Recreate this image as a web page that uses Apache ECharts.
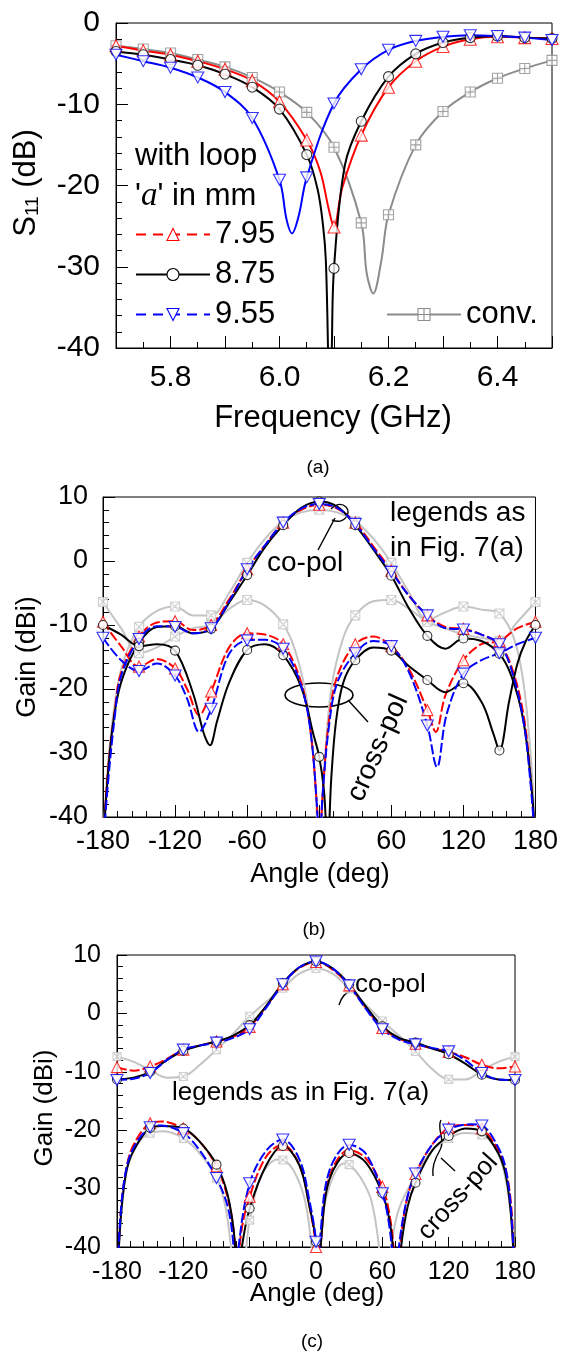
<!DOCTYPE html>
<html>
<head>
<meta charset="utf-8">
<script src="https://cdn.jsdelivr.net/npm/echarts@6/dist/echarts.min.js"></script>
<style>
html, body { margin: 0; padding: 0; background: #fff; }
#container { width: 561px; height: 1355px; }
</style>
</head>
<body>
<div id="container"></div>
<script>
const FONT = "'Liberation Sans', Arial, Helvetica, sans-serif"
const SERIF = "'Liberation Serif', 'Times New Roman', serif"

// (a) S11 vs frequency, [GHz, dB]
const s11_795 = [[5.70,-2.8],[5.75,-3.4],[5.80,-3.9],[5.85,-4.7],[5.90,-5.7],[5.95,-7.1],[6.00,-9.7],[6.05,-14.4],[6.075,-18.3],[6.09,-22.8],[6.10,-25.1],[6.115,-20.3],[6.15,-13.8],[6.20,-7.9],[6.25,-4.7],[6.30,-2.9],[6.35,-2.0],[6.40,-1.7],[6.45,-1.8],[6.50,-1.9]]
const s11_875 = [[5.70,-3.5],[5.75,-3.9],[5.80,-4.5],[5.85,-5.2],[5.90,-6.3],[5.95,-7.9],[6.00,-10.6],[6.05,-16.2],[6.07,-20.5],[6.08,-25],[6.085,-29.2],[6.089,-40],[6.092,-52],[6.096,-40],[6.10,-30.2],[6.12,-17.5],[6.15,-12.1],[6.20,-6.6],[6.25,-3.8],[6.30,-2.4],[6.35,-1.8],[6.40,-1.6],[6.45,-1.8],[6.50,-1.9]]
const s11_955 = [[5.70,-3.9],[5.75,-4.7],[5.80,-5.5],[5.85,-6.7],[5.90,-8.5],[5.95,-11.7],[6.00,-19.3],[6.013,-24.2],[6.023,-25.9],[6.035,-23.8],[6.05,-19.0],[6.10,-9.9],[6.15,-5.7],[6.20,-3.3],[6.25,-2.2],[6.30,-1.7],[6.35,-1.5],[6.40,-1.6],[6.45,-1.8],[6.50,-2.1]]
const s11_conv = [[5.70,-2.8],[5.75,-3.2],[5.80,-3.7],[5.85,-4.5],[5.90,-5.4],[5.95,-6.7],[6.00,-8.5],[6.05,-11.0],[6.10,-15.3],[6.15,-24.6],[6.16,-30.8],[6.172,-33.3],[6.187,-29.2],[6.20,-23.6],[6.25,-15.0],[6.30,-10.9],[6.35,-8.5],[6.40,-6.8],[6.45,-5.6],[6.50,-4.6]]

// (b) gain vs angle, [deg, dBi]
const bCo_795 = [[-180,-45],[-176,-33],[-170,-23],[-165,-17.5],[-150,-11.8],[-135,-9.6],[-120,-9.4],[-105,-10.8],[-90,-10],[-75,-6],[-60,-1.3],[-45,2.5],[-30,6],[-15,8],[0,8.8],[15,8.2],[30,6],[45,2.3],[60,-1.5],[75,-5.5],[90,-8.5],[105,-10.3],[120,-10.6],[135,-11.5],[150,-13],[160,-16.5],[170,-24],[176,-34],[180,-45]]
const bCo_875 = [[-180,-45],[-177,-36],[-172,-26],[-165,-19],[-150,-12.8],[-135,-10.3],[-120,-10.2],[-105,-11.3],[-90,-10.6],[-75,-6.5],[-60,-2.2],[-45,2.2],[-30,5.6],[-15,8.3],[0,9.3],[15,8.5],[30,5.6],[45,1.8],[60,-2.3],[75,-7.5],[90,-11.7],[105,-13.7],[120,-12.1],[135,-12.5],[150,-14.5],[160,-18],[170,-25],[177,-36],[180,-45]]
const bCo_955 = [[-180,-45],[-176,-35],[-170,-24],[-165,-18],[-150,-12.2],[-135,-10.2],[-120,-10.3],[-105,-11.3],[-90,-10.5],[-75,-6.3],[-60,-1.3],[-45,2.5],[-30,6],[-15,8.2],[0,8.9],[15,8.3],[30,5.8],[45,2],[60,-1.7],[75,-5.5],[90,-8.5],[105,-10.5],[120,-10.7],[135,-11.5],[150,-13],[160,-17],[170,-25],[176,-35],[180,-45]]
const bCo_conv = [[-180,-45],[-175,-30],[-165,-17],[-150,-10.3],[-135,-7.8],[-120,-7.1],[-105,-8.5],[-90,-8.5],[-75,-5],[-60,-0.3],[-45,3.5],[-30,6.2],[-15,7.6],[0,8],[15,7.6],[30,6.2],[45,3.5],[60,-0.3],[75,-5],[90,-9.2],[105,-8],[120,-7.1],[135,-7.6],[150,-8.2],[165,-14],[175,-28],[180,-45]]
const bX_795 = [[-180,-9.5],[-165,-13.3],[-150,-16.5],[-135,-15.3],[-120,-16.8],[-110,-20],[-100,-24.1],[-90,-20.4],[-75,-13.5],[-60,-11.3],[-45,-11.5],[-30,-13],[-15,-19],[-7,-27],[-2,-38],[0,-45],[3,-36],[8,-25],[15,-18],[30,-13],[45,-11.8],[60,-13.3],[75,-17],[90,-23.3],[97,-26.7],[105,-21],[120,-15.5],[135,-13],[150,-12.5],[165,-10.5],[180,-9.5]]
const bX_875 = [[-180,-10],[-165,-11.5],[-150,-13.3],[-135,-13],[-120,-14],[-105,-20.7],[-96,-27],[-91,-28.8],[-85,-25],[-75,-19],[-60,-13.9],[-45,-13],[-30,-14.7],[-15,-19.7],[-5,-27],[0,-30.6],[4,-36],[7,-45],[10,-34],[14,-25],[20,-19],[30,-15.5],[45,-13.5],[60,-14],[75,-16.5],[90,-18.6],[105,-20.5],[120,-19.1],[135,-22],[145,-27],[150,-29.6],[158,-22],[165,-16],[172,-12.5],[180,-10]]
const bX_955 = [[-180,-12],[-165,-15.5],[-150,-17.2],[-135,-16],[-120,-17.9],[-110,-21.5],[-100,-26.7],[-90,-23.1],[-75,-14.5],[-60,-12.4],[-45,-12.3],[-30,-13.7],[-15,-19.5],[-7,-27],[-2,-38],[0,-45],[3,-36],[8,-26],[15,-19],[30,-14.4],[45,-12.5],[60,-13.3],[75,-17.5],[90,-25.7],[98,-32.2],[106,-24],[120,-17.6],[135,-15.5],[150,-14.4],[165,-13],[180,-12]]
const bX_conv = [[-180,-6.4],[-165,-10.5],[-150,-14.4],[-135,-13.5],[-120,-11.8],[-105,-10.5],[-90,-10],[-75,-7.5],[-60,-6.1],[-45,-7],[-30,-9.9],[-20,-14],[-10,-22],[-4,-33],[0,-45],[4,-33],[10,-20],[20,-12],[30,-8.5],[45,-6.3],[60,-6.1],[75,-7.5],[90,-9.5],[105,-10.5],[120,-11.5],[135,-12],[150,-12.5],[165,-9.5],[180,-6.4]]

// (c) gain vs angle, [deg, dBi]
const cCo_795 = [[-180,-9.2],[-165,-9.8],[-150,-9.1],[-135,-7.8],[-120,-6.2],[-105,-5.5],[-90,-4.8],[-75,-4],[-60,-2.3],[-45,1.2],[-30,5],[-15,7.8],[0,8.8],[15,7.5],[30,4.8],[45,1],[60,-2.5],[75,-4.3],[90,-5.2],[105,-6],[120,-6.6],[135,-7.5],[150,-8.8],[165,-9.4],[180,-9.1]]
const cCo_875 = [[-180,-11.3],[-165,-11],[-150,-10],[-135,-8],[-120,-6.4],[-105,-5.5],[-90,-4.8],[-75,-3.8],[-60,-2],[-45,1.3],[-30,5.2],[-15,7.9],[0,8.9],[15,7.7],[30,5],[45,1.2],[60,-2.2],[75,-4.2],[90,-5],[105,-6],[120,-7],[135,-8.6],[150,-10.5],[165,-11.3],[180,-11.4]]
const cCo_955 = [[-180,-11.4],[-165,-11.2],[-150,-10.2],[-135,-8],[-120,-6.2],[-105,-5.5],[-90,-5],[-75,-4.2],[-60,-2.7],[-45,1],[-30,5],[-15,7.9],[0,8.9],[15,7.7],[30,4.8],[45,0.8],[60,-2.7],[75,-4.5],[90,-5.3],[105,-5.9],[120,-6.5],[135,-8],[150,-10.2],[165,-11.3],[180,-11.4]]
const cCo_conv = [[-180,-7.4],[-165,-8.3],[-150,-9.7],[-135,-11],[-120,-10.8],[-105,-8.8],[-90,-6.2],[-75,-3.5],[-60,-0.5],[-45,2],[-30,4.3],[-15,6.8],[0,7.7],[15,6.8],[30,4.2],[45,1.5],[60,-1.3],[75,-3.8],[90,-6.5],[105,-9.5],[120,-11.3],[135,-11.3],[150,-9.8],[165,-8.3],[180,-7.4]]
const cX_795 = [[-180,-48],[-177,-35],[-172,-27],[-165,-22.5],[-150,-18.8],[-140,-18.5],[-120,-19.7],[-105,-22],[-90,-26.2],[-80,-31.5],[-74,-38],[-71,-48],[-68,-38],[-60,-31.4],[-45,-24.5],[-30,-22.5],[-15,-26],[-6,-33],[0,-40],[2,-48],[5,-38],[12,-28],[30,-23.4],[45,-24.8],[60,-29.7],[67,-35],[71,-42],[73,-48],[76,-40],[82,-32],[90,-27.5],[105,-22.5],[120,-19.6],[135,-19.1],[150,-19.7],[165,-23.5],[172,-27],[177,-34],[180,-48]]
const cX_875 = [[-180,-48],[-177,-36],[-172,-27.5],[-165,-23.5],[-150,-19.6],[-140,-19.3],[-120,-19.7],[-105,-22],[-90,-25.9],[-80,-31],[-74,-38],[-71,-48],[-67,-40],[-60,-33.4],[-45,-26],[-30,-22.7],[-15,-26],[-6,-33],[0,-39.1],[2,-48],[5,-38],[12,-28.5],[30,-23.9],[45,-25.5],[60,-30.8],[67,-36],[71,-43],[74,-48],[77,-40],[83,-33],[90,-29],[105,-23.5],[120,-21],[135,-19.7],[150,-20.2],[165,-24],[172,-28],[177,-36],[180,-48]]
const cX_955 = [[-180,-48],[-177,-35],[-172,-27],[-165,-23],[-150,-19.5],[-140,-19.2],[-120,-20.5],[-105,-23.5],[-90,-28.2],[-80,-33],[-75,-39],[-72,-48],[-70,-40],[-60,-29.1],[-45,-23.5],[-30,-21.6],[-15,-25],[-6,-32],[0,-39.1],[1.5,-48],[4,-38],[12,-27],[30,-22.5],[45,-24],[60,-30.8],[66,-36],[70,-43],[72,-48],[75,-40],[82,-32],[90,-27.4],[105,-22.5],[120,-19.9],[140,-19],[150,-19.2],[165,-23],[172,-27],[177,-35],[180,-48]]
const cX_conv = [[-180,-48],[-176,-34],[-170,-26],[-160,-22],[-150,-20.5],[-138,-20.2],[-120,-21.4],[-105,-24],[-90,-28.2],[-82,-33],[-77,-40],[-74,-48],[-66,-48],[-63,-40],[-60,-35.4],[-50,-28],[-35,-25],[-30,-25.1],[-20,-27],[-10,-32],[-4,-40],[-1,-48],[3,-40],[10,-31],[25,-25.7],[30,-25.9],[40,-28],[50,-32],[57,-40],[60,-48],[64,-48],[68,-40],[75,-33.5],[90,-27.8],[105,-23.5],[120,-21.4],[135,-20.5],[150,-20.8],[162,-23],[170,-27],[176,-34],[180,-48]]

const RED = '#ff0000', BLACK = '#000000', BLUE = '#0000ff', GRAY_A = '#8c8c8c', GRAY_B = '#c4c4c4'
const INV_TRI = 'path://M0,0L12,0L6,10.4Z'
const BOX_PLUS = 'path://M0,0H10V10H0ZM5,0V10M0,5H10'
const BOX_X = 'path://M0,0H10V10H0ZM0,0L10,10M10,0L0,10'

const onFreqGrid = f => Math.abs(f * 20 - Math.round(f * 20)) < 1e-6
const onAngleGrid = a => Math.abs(a % 30) < 1e-6

function curve(name, data, idx, color, dash, symbol, size, isMark) {
    return [
        {
            name, type: 'line', xAxisIndex: idx, yAxisIndex: idx, data,
            smooth: 0.35, showSymbol: false, symbol, symbolSize: size, clip: true,
            lineStyle: { color, width: 2, type: dash ? [10, 3] : 'solid' },
            itemStyle: { color: '#fff', borderColor: color, borderWidth: 1 },
            silent: true, z: 2
        },
        {
            type: 'scatter', xAxisIndex: idx, yAxisIndex: idx,
            data: data.filter(p => isMark(p[0])),
            symbol, symbolSize: size, clip: true,
            itemStyle: { color: '#fff', borderColor: color, borderWidth: 1.1 },
            silent: true, z: 3
        }
    ]
}

function axis(o) {
    return Object.assign({
        type: 'value',
        axisLine: { show: true, onZero: false, lineStyle: { color: '#000', width: 1 } },
        axisTick: { show: true, inside: true, length: 12, lineStyle: { color: '#000' } },
        minorTick: { show: true, splitNumber: 5, length: 6, lineStyle: { color: '#000' } },
        splitLine: { show: false },
        minorSplitLine: { show: false }
    }, o)
}

function txt(text, x, y, size, extra) {
    return Object.assign({
        type: 'text', x, y, silent: true,
        style: Object.assign({ text, fill: '#000', fontSize: size, fontFamily: FONT, align: 'left', verticalAlign: 'middle' }, extra && extra.style)
    }, extra && { rotation: extra.rotation || 0 })
}

const stroke = w => ({ stroke: '#000', fill: null, lineWidth: w || 1.4 })
const seg = (x1, y1, x2, y2) => ({ type: 'line', silent: true, shape: { x1, y1, x2, y2 }, style: stroke() })
const bez = (x1, y1, cpx1, cpy1, cpx2, cpy2, x2, y2) => ({
    type: 'bezierCurve', silent: true, shape: { x1, y1, cpx1, cpy1, cpx2, cpy2, x2, y2 }, style: stroke()
})

const label = size => ({ color: '#000', fontFamily: FONT, fontSize: size })

const series = [].concat(
    curve('conv.', s11_conv, 0, GRAY_A, false, BOX_PLUS, 10, onFreqGrid),
    curve('7.95', s11_795, 0, RED, false, 'triangle', 12, onFreqGrid),
    curve('8.75', s11_875, 0, BLACK, false, 'circle', 10, onFreqGrid),
    curve('9.55', s11_955, 0, BLUE, false, INV_TRI, [12, 11], onFreqGrid),

    curve('b conv co', bCo_conv, 1, GRAY_B, false, BOX_X, 9, onAngleGrid),
    curve('b conv x', bX_conv, 1, GRAY_B, false, BOX_X, 9, onAngleGrid),
    curve('b 7.95 co', bCo_795, 1, RED, true, 'triangle', 11, onAngleGrid),
    curve('b 7.95 x', bX_795, 1, RED, true, 'triangle', 11, onAngleGrid),
    curve('b 8.75 co', bCo_875, 1, BLACK, false, 'circle', 9, onAngleGrid),
    curve('b 8.75 x', bX_875, 1, BLACK, false, 'circle', 9, onAngleGrid),
    curve('b 9.55 co', bCo_955, 1, BLUE, true, INV_TRI, [12, 11], onAngleGrid),
    curve('b 9.55 x', bX_955, 1, BLUE, true, INV_TRI, [12, 11], onAngleGrid),

    curve('c conv co', cCo_conv, 2, GRAY_B, false, BOX_X, 8, onAngleGrid),
    curve('c conv x', cX_conv, 2, GRAY_B, false, BOX_X, 8, onAngleGrid),
    curve('c 7.95 co', cCo_795, 2, RED, true, 'triangle', 11, onAngleGrid),
    curve('c 7.95 x', cX_795, 2, RED, true, 'triangle', 11, onAngleGrid),
    curve('c 8.75 co', cCo_875, 2, BLACK, false, 'circle', 9, onAngleGrid),
    curve('c 8.75 x', cX_875, 2, BLACK, false, 'circle', 9, onAngleGrid),
    curve('c 9.55 co', cCo_955, 2, BLUE, true, INV_TRI, [12, 11], onAngleGrid),
    curve('c 9.55 x', cX_955, 2, BLUE, true, INV_TRI, [12, 11], onAngleGrid)
)

const legendItem = (name, color, dash) => ({
    name,
    itemStyle: { color: '#fff', borderColor: color, borderWidth: 1.1 },
    lineStyle: { color, width: 2, type: dash ? [10, 7] : 'solid' }
})

const option = {
    animation: false,
    backgroundColor: '#fff',
    grid: [
        { left: 116, top: 23, width: 436, height: 325, show: true, borderColor: '#000', borderWidth: 1, backgroundColor: 'transparent' },
        { left: 103, top: 497, width: 434, height: 320, show: true, borderColor: '#000', borderWidth: 1, backgroundColor: 'transparent' },
        { left: 117, top: 955, width: 398, height: 292, show: true, borderColor: '#000', borderWidth: 1, backgroundColor: 'transparent' }
    ],
    xAxis: [
        axis({
            gridIndex: 0, min: 5.7, max: 6.5, interval: 0.1,
            minorTick: { show: true, splitNumber: 2, length: 6, lineStyle: { color: '#000' } },
            axisLabel: Object.assign(label(30), {
                margin: 15,
                formatter: v => { const k = Math.round(v * 10); return k % 2 === 0 ? (k / 10).toFixed(1) : '' }
            })
        }),
        axis({ gridIndex: 1, min: -180, max: 180, interval: 60, axisLabel: Object.assign(label(27), { margin: 11 }) }),
        axis({ gridIndex: 2, min: -180, max: 180, interval: 60, axisTick: { show: true, inside: true, length: 10, lineStyle: { color: '#000' } }, axisLabel: Object.assign(label(25), { margin: 13 }) })
    ],
    yAxis: [
        axis({ gridIndex: 0, min: -40, max: 0, interval: 10, axisLabel: Object.assign(label(30), { margin: 16 }) }),
        axis({ gridIndex: 1, min: -40, max: 10, interval: 10, axisLabel: Object.assign(label(27), { margin: 15 }) }),
        axis({ gridIndex: 2, min: -40, max: 10, interval: 10, axisTick: { show: true, inside: true, length: 10, lineStyle: { color: '#000' } }, axisLabel: Object.assign(label(25), { margin: 16 }) })
    ],
    legend: [
        {
            data: [legendItem('7.95', RED, true), legendItem('8.75', BLACK, false), legendItem('9.55', BLUE, true)],
            orient: 'vertical', left: 130, top: 214, itemWidth: 74, itemHeight: 15, itemGap: 9,
            selectedMode: false, padding: 5,
            textStyle: { color: '#000', fontFamily: FONT, fontSize: 31, lineHeight: 31 }
        },
        {
            data: [legendItem('conv.', GRAY_A, false)],
            orient: 'vertical', left: 381, top: 294, itemWidth: 74, itemHeight: 15,
            selectedMode: false, padding: 5,
            textStyle: { color: '#000', fontFamily: FONT, fontSize: 31, lineHeight: 31 }
        }
    ],
    graphic: [
        // panel (a)
        txt('S{sub|11} (dB)', 26, 183, 31, {
            rotation: Math.PI / 2,
            style: { align: 'center', rich: { sub: { fontSize: 19, fontFamily: FONT, padding: [14, 0, 0, 0] } } }
        }),
        txt('Frequency (GHz)', 333, 418, 31, { style: { align: 'center' } }),
        txt('with loop', 135, 156, 31),
        txt("'{it|a}' in mm", 135, 196, 31, { style: { rich: { it: { fontFamily: SERIF, fontStyle: 'italic', fontSize: 33 } } } }),
        txt('(a)', 318, 468, 19, { style: { align: 'center' } }),

        // panel (b)
        txt('Gain (dBi)', 28, 657, 27, { rotation: Math.PI / 2, style: { align: 'center' } }),
        txt('Angle (deg)', 320, 875, 27, { style: { align: 'center' } }),
        txt('legends as', 390, 513, 28),
        txt('in Fig. 7(a)', 390, 548, 28),
        txt('co-pol', 267, 563, 28),
        seg(318, 550, 335, 518),
        bez(332, 520, 344, 525, 352, 513, 346, 507),
        bez(346, 507, 341, 502, 334, 505, 331, 509),
        txt('cross-pol', 378, 748, 28, { rotation: 66 * Math.PI / 180, style: { align: 'center' } }),
        { type: 'ellipse', silent: true, shape: { cx: 319, cy: 695, rx: 34, ry: 12 }, style: stroke(1.6) },
        seg(348, 700, 368, 722),
        txt('(b)', 314, 930, 19, { style: { align: 'center' } }),

        // panel (c)
        txt('Gain (dBi)', 45, 1108, 26, { rotation: Math.PI / 2, style: { align: 'center' } }),
        txt('Angle (deg)', 317, 1294, 26, { style: { align: 'center' } }),
        txt('legends as in Fig. 7(a)', 172, 1093, 26),
        txt('co-pol', 355, 985, 26),
        bez(353, 990, 346, 992, 341, 998, 339, 1005),
        txt('cross-pol', 458, 1197, 26, { rotation: 48 * Math.PI / 180, style: { align: 'center' } }),
        bez(441, 1120, 436, 1128, 446, 1140, 440, 1150),
        bez(440, 1150, 434, 1160, 432, 1168, 433, 1176),
        seg(441, 1158, 455, 1171),
        txt('(c)', 312, 1342, 19, { style: { align: 'center' } })
    ],
    series
}

const chart = echarts.init(document.getElementById('container'))
chart.setOption(option)
</script>
</body>
</html>
